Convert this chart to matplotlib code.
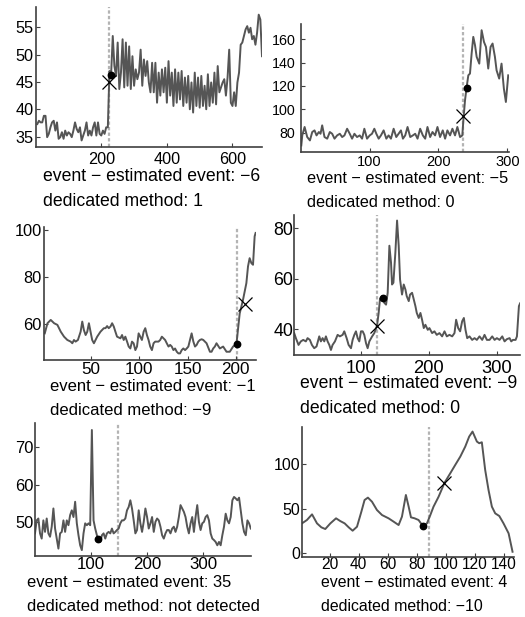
import matplotlib
matplotlib.use('Agg')
import matplotlib.pyplot as plt
import numpy as np

plt.rcParams['font.family'] = ['Liberation Sans', 'DejaVu Sans']

# ---- panel 1 (regular sample grid, step 5)
y1 = [37.3, 37.9, 37.6, 37.6, 38.8, 38.8, 34.9, 35.5, 36.7, 37.6,
      37.9, 36.1, 37.6, 34.6, 34.9, 35.8, 34.6, 36.1, 35.2, 35.8,
      35.5, 34.9, 36.1, 37.6, 36.4, 35.8, 36.7, 34.3, 35.2, 36.1,
      37.6, 35.2, 36.1, 35.2, 36.7, 37.6, 35.2, 37.6, 35.5, 35.2,
      36.1, 35.5, 36.7, 36.7, 47.0, 46.4, 53.4, 47.9, 46.1, 52.2,
      43.7, 46.7, 52.8, 44.0, 52.2, 44.3, 51.5, 43.7, 49.7, 44.3,
      47.3, 45.5, 46.7, 50.9, 44.3, 49.1, 46.1, 48.8, 44.9, 43.1,
      48.5, 43.1, 48.5, 41.2, 46.7, 42.5, 47.3, 43.1, 47.6, 41.2,
      48.8, 42.5, 46.7, 40.6, 47.3, 41.2, 46.7, 41.8, 47.0, 40.6,
      45.8, 41.2, 46.1, 40.0, 44.9, 39.4, 46.7, 40.6, 45.8, 40.3,
      46.1, 40.6, 44.3, 40.0, 46.4, 40.6, 44.9, 41.2, 46.7, 40.9,
      47.9, 43.1, 44.0, 44.9, 45.5, 42.5, 45.8, 50.9, 41.2, 40.6,
      43.1, 40.6, 44.9, 46.7, 51.8, 52.2, 53.4, 54.6, 55.2, 54.0,
      54.9, 52.8, 53.4, 51.8, 54.0, 57.3, 56.4, 49.7]
x1 = np.arange(5, 5 * len(y1) + 5, 5)

# ---- panel 2
x2 = [1, 2.4, 5.8, 9.6, 13.5, 16.9, 20.2, 23.1, 26.5, 28.9,
      31.3, 34.7, 38.6, 42.4, 45.8, 49.2, 53.0, 56.9, 60.3, 63.6,
      67.5, 71.3, 74.7, 78.1, 81.9, 85.8, 89.2, 92.5, 96.4, 100.3,
      103.6, 107.0, 109.9, 113.3, 116.6, 120.5, 124.4, 127.7, 131.1, 135.0,
      138.8, 142.2, 145.6, 148.5, 151.8, 155.2, 159.1, 162.9, 166.3, 169.7,
      173.5, 177.4, 180.8, 184.1, 188.0, 191.4, 195.2, 198.6, 202.4, 206.3,
      209.7, 213.0, 216.9, 220.3, 224.1, 227.5, 231.4, 234.7, 236.2, 238.6,
      241.0, 243.4, 245.8, 248.2, 250.6, 253.1, 255.5, 259.3, 262.7, 266.1,
      269.0, 272.3, 275.7, 278.6, 282.0, 284.4, 288.2, 291.6, 295.0, 297.9,
      301.3]
y2 = [69.1, 77.7, 84.9, 76.3, 73.4, 80.6, 82.0, 77.7, 80.6, 79.1,
      86.3, 76.3, 74.9, 80.6, 79.1, 74.9, 77.7, 79.1, 76.3, 77.7,
      83.4, 79.1, 74.9, 79.1, 76.3, 77.7, 74.9, 83.4, 74.9, 77.7,
      79.1, 83.4, 79.1, 74.9, 77.7, 82.0, 74.9, 77.7, 74.9, 83.4,
      76.3, 79.1, 82.0, 74.9, 77.7, 84.9, 76.3, 77.7, 79.1, 74.9,
      83.4, 77.7, 74.9, 84.9, 76.3, 80.6, 77.7, 84.9, 76.3, 82.0,
      74.9, 82.0, 77.7, 83.4, 77.7, 84.9, 76.3, 77.7, 90.6, 107.7,
      119.1, 129.1, 130.6, 147.7, 162.0, 154.9, 144.9, 139.1, 167.7, 157.7,
      153.4, 134.9, 153.4, 156.3, 144.9, 133.4, 126.3, 139.1, 117.7, 106.3,
      129.1]

# ---- panel 3
x3 = [1.8, 4.6, 8.0, 11.5, 14.9, 18.4, 21.8, 25.2, 28.7, 30.4,
      32.1, 33.8, 36.2, 39.0, 40.7, 42.4, 44.2, 45.9, 47.6, 49.3,
      51.0, 52.8, 56.2, 59.6, 63.1, 64.8, 66.5, 68.2, 70.0, 71.7,
      73.4, 75.1, 76.8, 80.3, 82.0, 83.7, 85.4, 87.2, 88.9, 90.6,
      92.3, 94.0, 95.8, 97.5, 99.2, 100.9, 102.6, 104.4, 106.1, 107.8,
      109.5, 111.2, 113.0, 114.7, 116.4, 119.8, 121.6, 123.3, 125.0, 126.7,
      128.4, 130.2, 131.9, 133.6, 135.3, 137.0, 138.8, 140.5, 142.2, 143.9,
      145.6, 147.4, 149.1, 150.8, 152.5, 154.2, 156.0, 157.7, 159.4, 161.1,
      162.8, 164.6, 166.3, 169.7, 173.2, 174.9, 176.6, 178.3, 180.0, 183.5,
      186.9, 190.4, 193.8, 197.2, 200.7, 204.1, 207.5, 211.0, 212.7, 214.4,
      216.2, 217.9, 219.6, 220.6]
y3 = [56.0, 60.3, 61.7, 60.3, 59.6, 56.7, 54.6, 53.2, 52.5, 51.8,
      53.2, 52.5, 53.2, 56.7, 61.0, 57.4, 55.3, 56.7, 60.3, 56.7,
      53.2, 51.8, 54.6, 56.7, 58.2, 58.2, 59.1, 58.2, 58.9, 60.3,
      58.9, 56.7, 54.6, 53.9, 55.3, 53.2, 54.6, 52.5, 50.4, 49.6,
      52.5, 51.8, 48.9, 50.4, 56.0, 54.6, 53.2, 56.7, 58.2, 55.3,
      53.2, 50.4, 48.9, 51.8, 52.5, 52.5, 53.2, 54.6, 53.9, 53.2,
      51.8, 50.4, 51.1, 50.4, 48.9, 49.6, 48.2, 47.5, 47.5, 48.9,
      49.6, 48.9, 49.6, 50.4, 53.2, 56.0, 52.5, 50.4, 51.1, 52.5,
      53.2, 53.5, 53.2, 51.8, 48.2, 48.2, 49.6, 50.4, 51.8, 49.6,
      50.4, 48.2, 48.2, 50.4, 51.5, 64.5, 70.2, 77.3, 84.4, 87.9,
      85.8, 85.1, 97.2, 98.6]

# ---- panel 4
x4 = [1.7, 4.2, 8.1, 11.5, 15.0, 18.9, 21.4, 24.8, 27.8, 31.2,
      34.6, 38.6, 41.0, 43.5, 46.0, 48.4, 50.9, 53.4, 55.8, 58.2,
      61.7, 65.6, 69.0, 73.0, 75.4, 78.9, 81.8, 85.3, 87.7, 90.2,
      92.6, 95.1, 97.5, 100.0, 102.5, 104.9, 107.4, 109.8, 112.3, 116.2,
      119.6, 123.6, 126.0, 128.0, 131.0, 134.4, 136.9, 139.3, 141.8, 144.2,
      145.7, 147.7, 150.6, 153.1, 155.5, 157.5, 160.4, 162.9, 165.4, 167.3,
      170.3, 172.2, 175.2, 177.1, 180.1, 182.1, 185.0, 187.5, 189.9, 192.4,
      194.8, 198.3, 200.7, 204.7, 208.1, 211.5, 215.5, 219.4, 222.9, 226.3,
      230.2, 234.2, 237.6, 240.0, 243.0, 245.9, 248.9, 251.4, 253.8, 256.3,
      259.7, 263.6, 267.1, 270.5, 274.4, 278.4, 281.8, 285.3, 289.2, 293.1,
      296.6, 300.0, 303.9, 307.9, 311.3, 314.7, 318.7, 321.1, 323.6, 327.5,
      329.5, 332.4, 334.4, 336.4]
y4 = [38.4, 36.4, 33.7, 35.1, 35.7, 35.1, 36.4, 35.7, 33.7, 32.4,
      33.1, 37.1, 35.1, 36.4, 35.1, 37.1, 35.1, 33.7, 31.7, 33.7,
      35.1, 37.7, 37.1, 37.7, 39.1, 36.4, 33.7, 32.4, 35.7, 37.7,
      39.1, 36.4, 35.1, 39.1, 39.1, 37.7, 34.4, 32.4, 35.1, 37.0,
      38.4, 41.3, 46.4, 52.0, 53.1, 50.4, 49.7, 54.4, 73.1, 66.4,
      57.7, 58.4, 70.4, 83.1, 73.1, 59.7, 53.7, 57.7, 55.7, 53.1,
      51.1, 53.7, 54.4, 52.4, 49.1, 46.4, 44.4, 46.4, 43.7, 40.4,
      41.7, 39.7, 40.4, 38.4, 39.1, 37.7, 38.4, 37.1, 39.1, 37.1,
      37.7, 37.1, 38.4, 43.7, 40.4, 39.1, 43.1, 44.4, 39.7, 36.4,
      37.1, 35.7, 36.4, 35.7, 37.1, 35.7, 37.7, 35.7, 35.7, 37.1,
      35.7, 36.4, 35.7, 37.1, 35.1, 36.0, 36.4, 35.1, 35.7, 35.7,
      37.1, 49.1, 50.4, 50.1]

# ---- panel 5 (regular sample grid)
y5 = [46.9, 50.4, 50.9, 46.9, 45.5, 50.4, 47.3, 50.9, 46.9, 46.0,
      48.7, 53.6, 48.2, 45.5, 42.8, 46.9, 47.3, 50.4, 47.3, 50.4,
      49.1, 51.8, 53.1, 51.3, 55.4, 49.6, 46.4, 43.7, 42.4, 46.9,
      49.6, 49.1, 49.6, 49.1, 74.7, 50.4, 48.2, 46.4, 45.1, 44.6,
      46.4, 46.9, 45.5, 46.9, 47.3, 46.9, 48.2, 46.9, 47.3, 47.8,
      48.2, 49.6, 50.4, 50.4, 50.9, 53.1, 54.0, 55.8, 53.6, 50.4,
      46.9, 47.8, 53.1, 49.6, 47.3, 50.0, 53.6, 51.3, 48.2, 49.6,
      51.3, 47.3, 50.0, 50.9, 50.4, 48.7, 46.4, 45.5, 46.9, 47.8,
      47.8, 46.9, 48.2, 48.7, 47.3, 48.7, 51.3, 54.5, 53.6, 52.7,
      51.3, 48.7, 46.9, 49.6, 51.3, 47.3, 51.3, 54.5, 50.0, 47.8,
      49.6, 50.0, 51.3, 51.8, 50.4, 46.9, 45.5, 45.1, 44.6, 43.7,
      44.6, 43.7, 46.4, 48.7, 52.2, 50.4, 49.6, 51.3, 55.8, 56.7,
      56.3, 55.8, 56.5, 53.1, 49.6, 47.3, 46.4, 50.4, 49.6, 48.2]
x5 = 1 + 2.97 * np.arange(len(y5))

# ---- panel 6
x6 = [1.0, 4.4, 7.9, 11.3, 14.3, 17.0, 20.5, 24.4, 27.3, 30.3,
      33.1, 35.8, 38.8, 41.8, 44.0, 46.3, 49.1, 52.5, 56.0, 60.5,
      64.0, 67.4, 69.7, 72.4, 74.3, 75.9, 78.4, 81.1, 84.1, 86.9,
      89.2, 91.4, 94.9, 99.0, 102.9, 106.3, 109.8, 113.2, 115.9, 118.2,
      121.2, 122.8, 124.6, 126.9, 129.2, 131.5, 133.8, 136.6, 139.5, 143.0,
      145.7]
y6 = [33.2, 37.0, 43.4, 33.2, 28.7, 26.8, 33.2, 38.9, 35.8, 33.2,
      28.7, 24.9, 29.4, 46.4, 59.6, 62.3, 57.7, 48.3, 42.6, 38.9,
      35.1, 31.3, 40.8, 65.3, 52.1, 40.0, 38.9, 37.0, 30.2, 33.2,
      42.6, 52.1, 63.4, 79.2, 89.8, 99.2, 108.7, 120.0, 131.3, 137.0,
      125.7, 123.8, 124.9, 93.6, 70.9, 52.1, 44.5, 41.5, 33.2, 21.9,
      1.1]

# event (dotted line), estimated event (dot), dedicated method (cross)
events = [225, 236, 201, 123, 148, 88]
est_x = [231, 241, 201, 132, 113, 84]
est_y = [46.3, 118.3, 51.5, 52.4, 45.5, 30.2]
ded_x = [223.5, 236, 209.5, 123.5, None, 98.5]
ded_y = [44.9, 94.3, 68.5, 41.3, None, 79.2]
diff_labels = ['\u22126', '\u22125', '\u22121', '\u22129', '35', '4']
ded_labels = ['1', '0', '\u22129', '0', 'not detected', '\u221210']

xs = [x1, x2, x3, x4, x5, x6]
ys = [y1, y2, y3, y4, y5, y6]

# layout in pixels: left, right, top, bottom
W, H = 525, 617
boxes = [(36, 262, 7, 147), (301.3, 508.7, 24, 152),
         (44, 256, 227.3, 360), (293.7, 520, 215, 355),
         (35, 250.7, 423.3, 555.7), (302, 513.7, 426.7, 556.7)]
xlims = [(1, 690), (1, 302), (1, 221), (1, 334), (1, 384), (1, 146.5)]
ylims = [(33.1, 58.7), (63.5, 173), (44.7, 101), (29.7, 85.3), (40.9, 76.5), (-4.5, 142.5)]
xticks = [[200, 400, 600], [100, 200, 300], [50, 100, 150, 200],
          [100, 200, 300], [100, 200, 300], [20, 40, 60, 80, 100, 120, 140]]
yticks = [[35, 40, 45, 50, 55], [80, 100, 120, 140, 160], [60, 80, 100],
          [40, 60, 80], [50, 60, 70], [0, 50, 100]]
text_pos = [(43, 181), (307, 182.7), (50, 390.7), (300.3, 388.3), (26.7, 586.7), (321.3, 586.7)]
text_size = [12.7, 11.7, 12.0, 12.7, 11.9, 11.4]
xtick_size = [11.7, 10.5, 12.3, 13.2, 12.2, 11.2]
ytick_size = [11.7, 10.3, 11.8, 12.8, 11.9, 11.5]
xpad = [3.9, 2.2, 1.4, 3.6, 1.0, 0.3]
ypad = [1.9, 4.3, 1.7, 0.2, 1.2, 1.2]

fig = plt.figure(figsize=(W / 100, H / 100), dpi=100)
line_col = '#555555'
axis_col = '#404040'

for i in range(6):
    l, r, t, b = boxes[i]
    ax = fig.add_axes([l / W, 1 - b / H, (r - l) / W, (b - t) / H])
    ax.plot(xs[i], ys[i], color=line_col, lw=1.4, zorder=2)
    ax.axvline(events[i], color='#b4b4b4', lw=1.6, linestyle=(0, (1.5, 1.0)), zorder=1)
    ax.plot(est_x[i], est_y[i], 'o', color='black', ms=4.6, zorder=4)
    if ded_x[i] is not None:
        ax.plot(ded_x[i], ded_y[i], 'x', color='black', ms=10, mew=0.9, zorder=4)
    ax.set_xlim(*xlims[i])
    ax.set_ylim(*ylims[i])
    ax.set_xticks(xticks[i])
    ax.set_yticks(yticks[i])
    for s in ['top', 'right']:
        ax.spines[s].set_visible(False)
    for s in ['left', 'bottom']:
        ax.spines[s].set_color(axis_col)
        ax.spines[s].set_linewidth(1.2)
    ax.tick_params(direction='in', length=3, width=0.8, color=axis_col)
    ax.tick_params(axis='x', pad=xpad[i], labelsize=xtick_size[i])
    ax.tick_params(axis='y', pad=ypad[i], labelsize=ytick_size[i])

    tx, ty = text_pos[i]
    fig.text(tx / W, 1 - ty / H, 'event \u2212 estimated event: ' + diff_labels[i],
             fontsize=text_size[i], va='baseline', ha='left')
    fig.text(tx / W, 1 - (ty + 24.5) / H, 'dedicated method: ' + ded_labels[i],
             fontsize=text_size[i], va='baseline', ha='left')

fig.savefig('out.png', dpi=100)
